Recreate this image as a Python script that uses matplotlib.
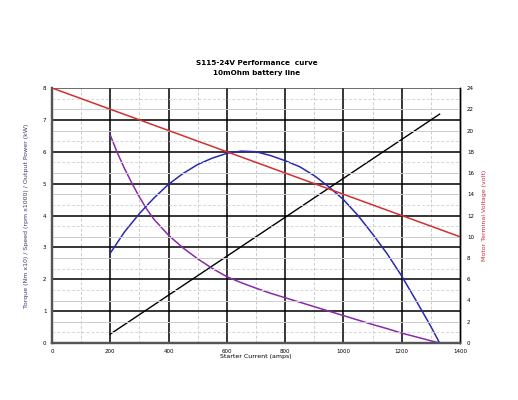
import numpy as np
import matplotlib
matplotlib.use('Agg')
import matplotlib.pyplot as plt

# valeurs
courant_volt = [0, 1400]
tension = [24, 10]

courant_couple = [200, 1330]
couple = [0.28, 7.18]

courant_vitesse = [200, 225, 250, 275, 300, 325, 350, 400, 450, 500, 550, 600, 650, 700,
                   750, 800, 850, 900, 950, 1000, 1050, 1100, 1150, 1200, 1250, 1300, 1330]
vitesse = [6.52, 5.95, 5.45, 5.0, 4.58, 4.2, 3.88, 3.38, 2.98, 2.64, 2.34, 2.08, 1.89, 1.72,
           1.56, 1.42, 1.28, 1.14, 1.0, 0.86, 0.72, 0.58, 0.45, 0.31, 0.19, 0.07, 0.0]

courant_puissance = [200, 250, 300, 350, 400, 450, 500, 550, 600, 650, 700, 750, 800, 850,
                     900, 950, 1000, 1050, 1100, 1150, 1200, 1250, 1300, 1330]
puissance = [2.82, 3.5, 4.06, 4.55, 4.98, 5.32, 5.6, 5.8, 5.95, 6.02, 6.0, 5.88, 5.72, 5.53,
             5.25, 4.9, 4.5, 4.0, 3.42, 2.8, 2.1, 1.32, 0.52, 0.0]

x_ticks = [0, 200, 400, 600, 800, 1000, 1200, 1400]
y_ticks = [0, 1, 2, 3, 4, 5, 6, 7, 8]
y2_ticks = [0, 2, 4, 6, 8, 10, 12, 14, 16, 18, 20, 22, 24]

fig = plt.figure(figsize=(5.18, 4.0), dpi=100)
ax = fig.add_axes([0.1004, 0.1425, 0.7876, 0.6375])
ax2 = ax.twinx()

ax.set_xlim(0, 1400)
ax.set_ylim(0, 8)
ax2.set_ylim(0, 24)

# grilles : volts pairs (trait clair), volts impairs (pointille), puis majeure noire
for v in range(1, 24):
    if v % 3 == 0:
        continue
    if v % 2 == 0:
        ax2.axhline(v, color='#cccccc', lw=0.7, zorder=0)
    else:
        ax2.axhline(v, color='#d6d6d6', lw=0.7, ls=(0, (3, 2)), zorder=0)
for x in range(100, 1400, 200):
    ax.axvline(x, color='#cccccc', lw=0.7, ls=(0, (3, 2)), zorder=0)
for x in x_ticks[1:-1]:
    ax.axvline(x, color='black', lw=1.1, zorder=1)
for y in y_ticks[1:-1]:
    ax.axhline(y, color='black', lw=1.1, zorder=1)
ax.axhline(8, color='#444444', lw=1.1, zorder=1)

ax2.plot(courant_volt, tension, color='#d03030', lw=1.1, zorder=3)
ax.plot(courant_couple, couple, color='black', lw=1.0, zorder=3)
ax.plot(courant_vitesse, vitesse, color='#8a2aa8', lw=1.1, zorder=3)
ax.plot(courant_puissance, puissance, color='#2a2ab0', lw=1.1, zorder=3)

ax.set_xticks(x_ticks)
ax.set_yticks(y_ticks)
ax2.set_yticks(y2_ticks)
ax.tick_params(labelsize=4, length=0, pad=4)
ax2.tick_params(labelsize=4, length=0, pad=5)

for a in (ax, ax2):
    a.spines['top'].set_visible(False)
    a.spines['left'].set_color('#555555')
    a.spines['left'].set_linewidth(1.6)
    a.spines['bottom'].set_color('#555555')
    a.spines['bottom'].set_linewidth(1.6)
    a.spines['right'].set_color('black')
    a.spines['right'].set_linewidth(1.0)

ax.set_xlabel('Starter Current (amps)', fontsize=4.5, labelpad=0)
ax.set_ylabel('Torque (Nm x10) / Speed (rpm x1000) / Output Power (kW)',
              fontsize=4.5, color='#3a3a70', labelpad=10)
ax2.set_ylabel('Motor Terminal Voltage (volt)', fontsize=4.5, color='#c03040', labelpad=6)

fig.text(0.495, 0.838, 'S115-24V Performance  curve', ha='center', fontsize=5.2, fontweight='bold')
fig.text(0.495, 0.812, '10mOhm battery line', ha='center', fontsize=5.2, fontweight='bold')

fig.savefig('out.png', dpi=100)
